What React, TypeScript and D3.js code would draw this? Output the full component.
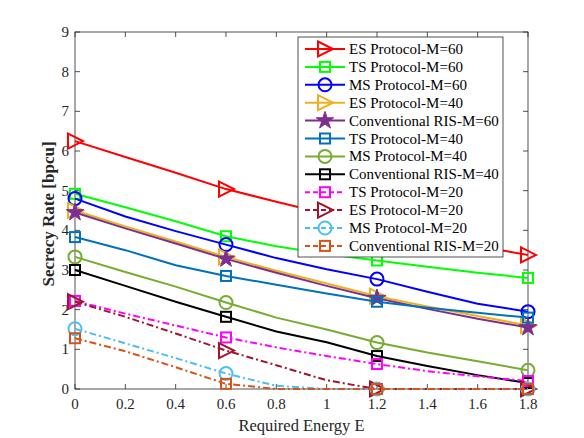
import React from "react";
import * as d3 from "d3";

const energies = [0, 0.2, 0.4, 0.6, 0.8, 1.0, 1.2, 1.4, 1.6, 1.8];
const xTicks = [0, 0.2, 0.4, 0.6, 0.8, 1, 1.2, 1.4, 1.6, 1.8];
const yTicks = [0, 1, 2, 3, 4, 5, 6, 7, 8, 9];

const esM60 = [6.25, 5.85, 5.45, 5.04, 4.72, 4.41, 4.1, 3.85, 3.6, 3.38];
const tsM60 = [4.92, 4.58, 4.23, 3.85, 3.6, 3.4, 3.24, 3.08, 2.93, 2.8];
const msM60 = [4.8, 4.35, 3.98, 3.64, 3.3, 3.02, 2.77, 2.45, 2.15, 1.95];
const esM40 = [4.5, 4.1, 3.72, 3.33, 2.98, 2.66, 2.34, 2.08, 1.84, 1.6];
const convM60 = [4.45, 4.05, 3.67, 3.28, 2.93, 2.6, 2.29, 2.02, 1.77, 1.55];
const tsM40 = [3.83, 3.5, 3.12, 2.85, 2.63, 2.41, 2.2, 2.05, 1.92, 1.8];
const msM40 = [3.33, 2.95, 2.58, 2.18, 1.8, 1.5, 1.17, 0.92, 0.7, 0.47];
const convM40 = [3.0, 2.6, 2.2, 1.82, 1.45, 1.18, 0.83, 0.58, 0.35, 0.15];
const tsM20 = [2.22, 1.9, 1.6, 1.3, 1.05, 0.83, 0.63, 0.45, 0.32, 0.2];
const esM20 = [2.2, 1.82, 1.4, 0.97, 0.6, 0.22, 0, 0, 0, 0];
const msM20 = [1.52, 1.15, 0.78, 0.39, 0.08, 0, 0, 0, 0, 0];
const convM20 = [1.28, 0.95, 0.55, 0.13, 0, 0, 0, 0, 0, 0];

const seriesNames = [
  "ES Protocol-M=60",
  "TS Protocol-M=60",
  "MS Protocol-M=60",
  "ES Protocol-M=40",
  "Conventional RIS-M=60",
  "TS Protocol-M=40",
  "MS Protocol-M=40",
  "Conventional RIS-M=40",
  "TS Protocol-M=20",
  "ES Protocol-M=20",
  "MS Protocol-M=20",
  "Conventional RIS-M=20",
];
const seriesValues = [esM60, tsM60, msM60, esM40, convM60, tsM40, msM40, convM40, tsM20, esM20, msM20, convM20];
const seriesColors = [
  "#FF0000", "#00FF00", "#0000FF", "#EDB120", "#7E2F8E", "#0072BD",
  "#77AC30", "#000000", "#FF00FF", "#A2142F", "#4DBEEE", "#D95319",
];
const seriesMarkers = ["tri", "sq", "circ", "tri", "star", "sq", "circ", "sq", "sq", "tri", "circ", "sq"];
const seriesDashed = [false, false, false, false, false, false, false, false, true, true, true, true];
const markerIdx = [0, 3, 6, 9];

const W = 584, H = 438;
const L = 75, R = 528, T = 32, B = 389;
const AX = "#262626";
const FONT = "'Liberation Serif', 'Times New Roman', serif";

function Marker({ type, x, y, color }: { type: string; x: number; y: number; color: string }) {
  if (type === "tri") {
    const pts = [[x - 7, y - 7.5], [x + 8, y], [x - 7, y + 7.5]].map((p) => p.join(",")).join(" ");
    return <polygon points={pts} fill="none" stroke={color} strokeWidth={2} />;
  }
  if (type === "sq") {
    return <rect x={x - 5} y={y - 5} width={10} height={10} fill="none" stroke={color} strokeWidth={2} />;
  }
  if (type === "circ") {
    return <circle cx={x} cy={y} r={6.5} fill="none" stroke={color} strokeWidth={2} />;
  }
  const star = d3.symbol().type(d3.symbolStar).size(95)();
  return <path d={star || ""} transform={`translate(${x},${y})`} fill={color} stroke={color} strokeWidth={1} />;
}

export default function App() {
  const x = d3.scaleLinear().domain([0, 1.8]).range([L, R]);
  const y = d3.scaleLinear().domain([0, 9]).range([B, T]);
  const line = d3
    .line<number>()
    .x((_, i) => x(energies[i]))
    .y((d) => y(d));

  const legX = 298, legY = 37, legW = 205, legH = 220;
  const rowH = 17.9, row0 = 49;
  const dash = "7,3,2,3";

  return (
    <div style={{ position: "fixed", left: 0, top: 0, width: W, height: H, background: "#fff" }}>
      <svg width={W} height={H} style={{ display: "block" }} fontFamily={FONT}>
        <rect x={0} y={0} width={W} height={H} fill="#fff" />
        <rect x={L} y={T} width={R - L} height={B - T} fill="#fff" stroke={AX} strokeWidth={0.8} />
        {xTicks.map((t) => (
          <g key={"xt" + t}>
            <line x1={x(t)} x2={x(t)} y1={B} y2={B - 5} stroke={AX} strokeWidth={0.8} />
            <line x1={x(t)} x2={x(t)} y1={T} y2={T + 5} stroke={AX} strokeWidth={0.8} />
            <text x={x(t)} y={B + 20} textAnchor="middle" fontSize={15} fill={AX}>
              {String(t)}
            </text>
          </g>
        ))}
        {yTicks.map((t) => (
          <g key={"yt" + t}>
            <line x1={L} x2={L + 5} y1={y(t)} y2={y(t)} stroke={AX} strokeWidth={0.8} />
            <line x1={R} x2={R - 5} y1={y(t)} y2={y(t)} stroke={AX} strokeWidth={0.8} />
            <text x={L - 6} y={y(t) + 5} textAnchor="end" fontSize={15} fill={AX}>
              {String(t)}
            </text>
          </g>
        ))}
        <text x={(L + R) / 2} y={431} textAnchor="middle" fontSize={16.5} fill={AX}>
          Required Energy E
        </text>
        <text
          transform={`translate(54,214) rotate(-90)`}
          textAnchor="middle"
          fontSize={17}
          fontWeight="bold"
          fill={AX}
        >
          Secrecy Rate [bpcu]
        </text>

        {seriesValues.map((vals, si) => (
          <g key={"s" + si}>
            <path
              d={line(vals) || ""}
              fill="none"
              stroke={seriesColors[si]}
              strokeWidth={2}
              strokeDasharray={seriesDashed[si] ? dash : undefined}
            />
            {markerIdx.map((mi) => (
              <Marker key={mi} type={seriesMarkers[si]} x={x(energies[mi])} y={y(vals[mi])} color={seriesColors[si]} />
            ))}
          </g>
        ))}

        <rect x={legX} y={legY} width={legW} height={legH} fill="#fff" stroke={AX} strokeWidth={0.8} />
        {seriesNames.map((name, i) => {
          const cy = row0 + i * rowH;
          return (
            <g key={"lg" + i}>
              <line
                x1={305}
                x2={345}
                y1={cy}
                y2={cy}
                stroke={seriesColors[i]}
                strokeWidth={2}
                strokeDasharray={seriesDashed[i] ? "5,3" : undefined}
              />
              <Marker type={seriesMarkers[i]} x={325} y={cy} color={seriesColors[i]} />
              <text x={349} y={cy + 5} fontSize={15} fill="#000">
                {name}
              </text>
            </g>
          );
        })}
      </svg>
    </div>
  );
}
